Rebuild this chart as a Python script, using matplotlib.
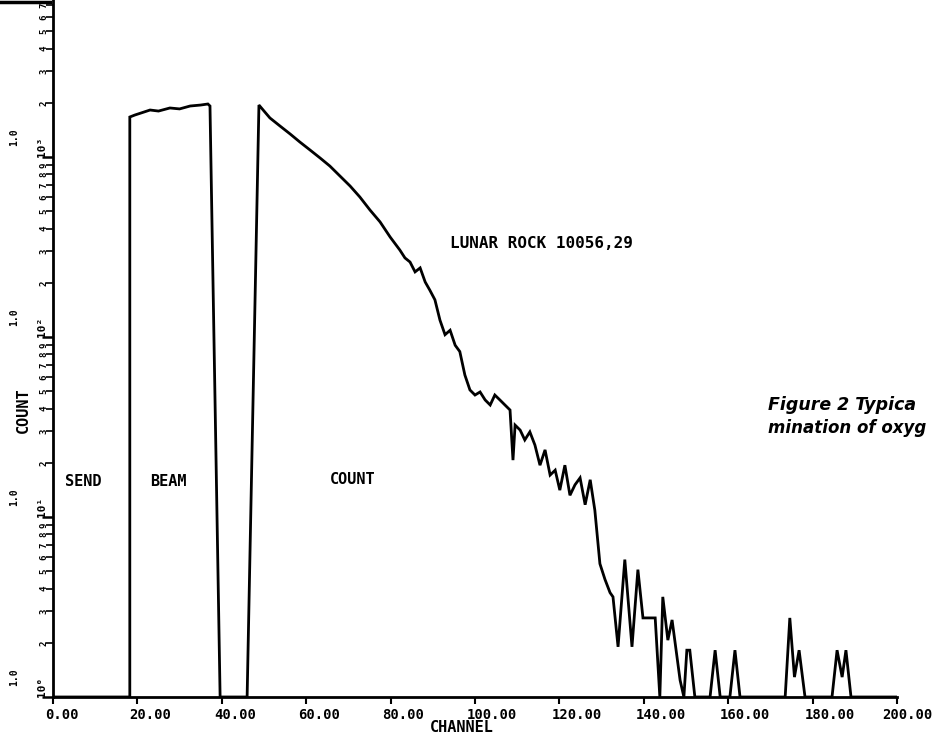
import matplotlib
matplotlib.use("Agg")
import matplotlib.pyplot as plt
from matplotlib.transforms import ScaledTranslation, blended_transform_factory
from matplotlib.ticker import LogLocator, NullFormatter, FixedLocator
from matplotlib.lines import Line2D

# ---- data ----
channel = [0, 18.2, 18.2, 19.4, 21.0, 23.0, 25.0, 27.7, 30.0, 32.5, 35.0, 36.7, 37.2, 39.6,
           46.0, 48.8, 50.2, 51.4, 53.8, 56.2, 58.5, 60.9, 63.3, 65.6, 68.0, 70.4, 72.7,
           75.1, 77.5, 79.9, 82.2, 83.4, 84.6, 85.8, 87.0, 88.2, 89.3, 90.5, 91.7, 92.9,
           94.1, 95.3, 96.4, 97.6, 98.8, 100.0, 101.2, 102.4, 103.6, 104.7, 105.9, 107.1,
           108.3, 109.0, 109.5, 110.7, 111.8, 113.0, 114.2, 115.4, 116.6, 117.8, 119.0,
           120.1, 121.3, 122.5, 123.7, 124.9, 126.1, 127.3, 128.4, 129.6, 130.8, 132.0,
           132.7, 133.9, 135.5, 137.2, 138.6, 139.8, 142.7, 143.8, 144.5, 145.7, 146.7,
           148.6, 149.5, 150.2, 150.9, 152.1, 155.7, 156.9, 158.1, 160.4, 161.6, 162.8,
           173.5, 174.6, 175.7, 176.8, 178.2, 184.6, 185.8, 187.0, 187.9, 189.1, 200]
counts = [1, 1, 1668, 1711, 1760, 1824, 1800, 1872, 1850, 1920, 1944, 1970, 1920, 1,
          1, 1944, 1778, 1648, 1486, 1342, 1211, 1094, 987, 891, 784, 690, 600,
          508, 436, 359, 304, 275, 261, 230, 242, 202, 182, 161, 124, 103,
          109, 90, 83, 61.5, 50.8, 47.6, 49.5, 44.7, 41.9, 47.6, 44.7, 41.9,
          39.3, 20.7, 32.4, 30.4, 26.8, 29.7, 25.1, 19.4, 23.6, 17.1, 18.2,
          14.1, 19.4, 13.2, 15.1, 16.5, 11.7, 16.1, 10.9, 5.5, 4.5, 3.8,
          3.6, 1.9, 5.8, 1.9, 5.1, 2.75, 2.75, 1, 3.6, 2.07, 2.68,
          1.24, 1, 1.82, 1.82, 1, 1, 1.82, 1, 1, 1.82, 1,
          1, 2.75, 1.29, 1.82, 1, 1, 1.82, 1.29, 1.82, 1, 1]

x_ticks = [0, 20, 40, 60, 80, 100, 120, 140, 160, 180, 200]
x_tick_labels = ["0.00", "20.00", "40.00", "60.00", "80.00", "100.00", "120.00",
                 "140.00", "160.00", "180.00", "200.00"]
y_decades = [1, 10, 100, 1000]
y_decade_labels = ["10\u2070", "10\u00b9", "10\u00b2", "10\u00b3"]

W, H = 937, 735
fig = plt.figure(figsize=(W / 100, H / 100), dpi=100)
ax = fig.add_axes([53 / W, 38 / H, 844 / W, 697 / H])
ax.set_yscale('log')
ax.set_xlim(0, 200)
ax.set_ylim(1, 10 ** (697 / 180))
ax.plot(channel, counts, color='black', lw=2.0, solid_joinstyle='miter')

for s in ['top', 'right']:
    ax.spines[s].set_visible(False)
for s in ['left', 'bottom']:
    ax.spines[s].set_linewidth(2)

mono = 'DejaVu Sans Mono'
ax.set_xticks(x_ticks)
ax.set_xticklabels([])
ax.tick_params(axis='x', direction='out', length=5, width=1.5)
trx = blended_transform_factory(ax.transData, fig.transFigure)
for i, (t, lab) in enumerate(zip(x_ticks, x_tick_labels)):
    dx = -8 if i < len(x_ticks) - 1 else -15
    ax.text(t, 1 - 715 / H, lab, ha='left', va='center', family=mono, fontweight='bold',
            fontsize=10, clip_on=False,
            transform=trx + ScaledTranslation(dx / 100, 0, fig.dpi_scale_trans))

ax.yaxis.set_major_locator(FixedLocator(y_decades))
ax.yaxis.set_minor_locator(LogLocator(base=10, subs=range(2, 10)))
ax.yaxis.set_major_formatter(NullFormatter())
ax.yaxis.set_minor_formatter(NullFormatter())
ax.tick_params(axis='y', which='major', direction='out', length=8, width=1.8)
ax.tick_params(axis='y', which='minor', direction='out', length=5, width=1.2)

tr = blended_transform_factory(fig.transFigure, ax.transData)
ytop = 10 ** (697 / 180)
for d, lab in zip(y_decades, y_decade_labels):
    ax.text(42 / W, d, lab, transform=tr, rotation=90, ha='center', va='bottom',
            family=mono, fontweight='bold', fontsize=8, clip_on=False)
    ax.text(14 / W, d * 1.15, "1.0", transform=tr, rotation=90, ha='center', va='bottom',
            family=mono, fontweight='bold', fontsize=7, clip_on=False)
    for m in range(2, 10):
        v = d * m
        if v < ytop:
            ax.text(44 / W, v, str(m), transform=tr, rotation=90, ha='center', va='center',
                    family=mono, fontweight='bold', fontsize=6.5, clip_on=False)

ax.text(23 / W, 1 - 410 / H, "COUNT", transform=fig.transFigure, rotation=90,
        ha='center', va='center', family=mono, fontweight='bold', fontsize=11)
fig.text(462 / W, 1 - 727 / H, "CHANNEL", ha='center', va='center',
         family=mono, fontweight='bold', fontsize=11)

fig.text(450 / W, 1 - 243 / H, "LUNAR ROCK 10056,29", ha='left', va='center',
         family=mono, fontweight='bold', fontsize=11.5)
fig.text(65 / W, 1 - 482 / H, "SEND", ha='left', va='center',
         family=mono, fontweight='bold', fontsize=11)
fig.text(150 / W, 1 - 482 / H, "BEAM", ha='left', va='center',
         family=mono, fontweight='bold', fontsize=11)
fig.text(330 / W, 1 - 480 / H, "COUNT", ha='left', va='center',
         family=mono, fontweight='bold', fontsize=11)

fig.text(768 / W, 1 - 405 / H, "Figure 2 Typica", ha='left', va='center',
         family='DejaVu Sans', fontweight='bold', style='italic', fontsize=12.5)
fig.text(768 / W, 1 - 428 / H, "mination of oxyg", ha='left', va='center',
         family='DejaVu Sans', fontweight='bold', style='italic', fontsize=12)

fig.add_artist(Line2D([0, 50 / W], [1 - 1.5 / H, 1 - 1.5 / H], color='black', lw=2.5,
                      transform=fig.transFigure))

fig.savefig("out.png", dpi=100)
